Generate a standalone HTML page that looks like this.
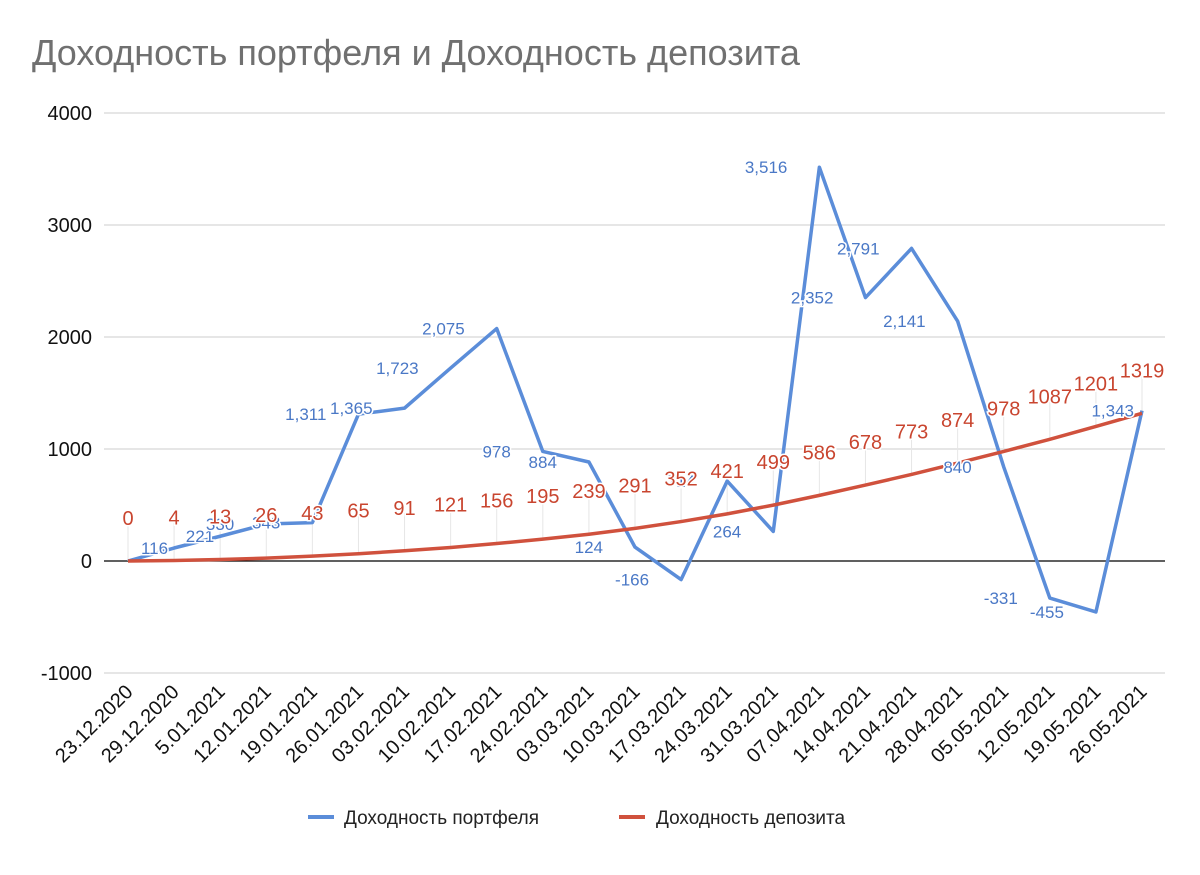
<!DOCTYPE html>
<html><head><meta charset="utf-8"><style>
body{margin:0;background:#fff;font-family:"Liberation Sans",Arial,sans-serif;}
svg text{font-family:"Liberation Sans",Arial,sans-serif;}
</style></head><body>
<svg id="chart" width="1200" height="870" viewBox="0 0 1200 870">
<text x="32" y="65" font-size="36" fill="#707070">Доходность портфеля и Доходность депозита</text>
<g id="grid"></g><g id="xlabels"></g><g id="series"></g><g id="labels"></g>
<g>
<line x1="308" y1="817" x2="334" y2="817" stroke="#5b8dd9" stroke-width="4"/>
<text x="344" y="824" font-size="19" fill="#222">Доходность портфеля</text>
<line x1="619" y1="817" x2="645" y2="817" stroke="#d0513d" stroke-width="4"/>
<text x="656" y="824" font-size="19" fill="#222">Доходность депозита</text>
</g>
</svg>
<script>
const categories=["23.12.2020","29.12.2020","5.01.2021","12.01.2021","19.01.2021","26.01.2021","03.02.2021","10.02.2021","17.02.2021","24.02.2021","03.03.2021","10.03.2021","17.03.2021","24.03.2021","31.03.2021","07.04.2021","14.04.2021","21.04.2021","28.04.2021","05.05.2021","12.05.2021","19.05.2021","26.05.2021"];
const portfolio=[0,116,221,330,343,1311,1365,1723,2075,978,884,124,-166,714,264,3516,2352,2791,2141,840,-331,-455,1343];
const deposit=[0,4,13,26,43,65,91,121,156,195,239,291,352,421,499,586,678,773,874,978,1087,1201,1319];
const yTicks=[-1000,0,1000,2000,3000,4000];
const NS="http://www.w3.org/2000/svg";
const X=i=>128+i*(1142-128)/(categories.length-1);
const Y=v=>561-v*0.112;
function mk(tag,attrs,parent,txt){const e=document.createElementNS(NS,tag);for(const k in attrs)e.setAttribute(k,attrs[k]);if(txt!==undefined)e.textContent=txt;parent.appendChild(e);return e;}
const grid=document.getElementById('grid'),xl=document.getElementById('xlabels'),ser=document.getElementById('series'),lab=document.getElementById('labels');
yTicks.forEach(t=>{
 const l=mk('line',{x1:104,x2:1165,y1:Y(t),y2:Y(t),stroke:t===0?'#000':'#ccc','stroke-width':t===0?1.3:1},grid);
 
 
 const tx=mk('text',{x:92,y:Y(t)+7,'text-anchor':'end','font-size':20,fill:'#111'},grid,String(t));
 
 
});
categories.forEach((c,i)=>{
 const tx=mk('text',{x:X(i)+6,y:693,'text-anchor':'end','font-size':20,fill:'#111',transform:`rotate(-45 ${X(i)+6} 693)`},xl,c);
 
 
});
deposit.forEach((v,i)=>{
 const l=mk('line',{x1:X(i),x2:X(i),y1:Y(v)-38,y2:Y(v),stroke:'#e6e6e6','stroke-width':1},ser);
 
 
});
const pb=mk('polyline',{points:portfolio.map((v,i)=>X(i)+','+Y(v)).join(' '),fill:'none',stroke:'#5b8dd9','stroke-width':3.5,'stroke-linejoin':'round'},ser);


const pr=mk('polyline',{points:deposit.map((v,i)=>X(i)+','+Y(v)).join(' '),fill:'none',stroke:'#d0513d','stroke-width':3.5,'stroke-linejoin':'round'},ser);


portfolio.forEach((v,i)=>{
 if(i===0)return;
 const s=Math.abs(v)>=1000?(v<0?'-':'')+Math.floor(Math.abs(v)/1000)+','+String(Math.abs(v)%1000).padStart(3,'0'):String(v);
 const off=(i===portfolio.length-1)?8:(i<=2?6:32);
 const tx=mk('text',{x:X(i)-off,y:Y(v)+6,'text-anchor':'end','font-size':17,fill:'#4a78c6',stroke:'#fff','stroke-width':3,'paint-order':'stroke'},lab,s);
 
 
});
deposit.forEach((v,i)=>{
 const tx=mk('text',{x:X(i),y:Y(v)-36,'text-anchor':'middle','font-size':20,fill:'#c9452f',stroke:'#fff','stroke-width':3,'paint-order':'stroke'},lab,String(v));
 
 
});
</script>
</body></html>
